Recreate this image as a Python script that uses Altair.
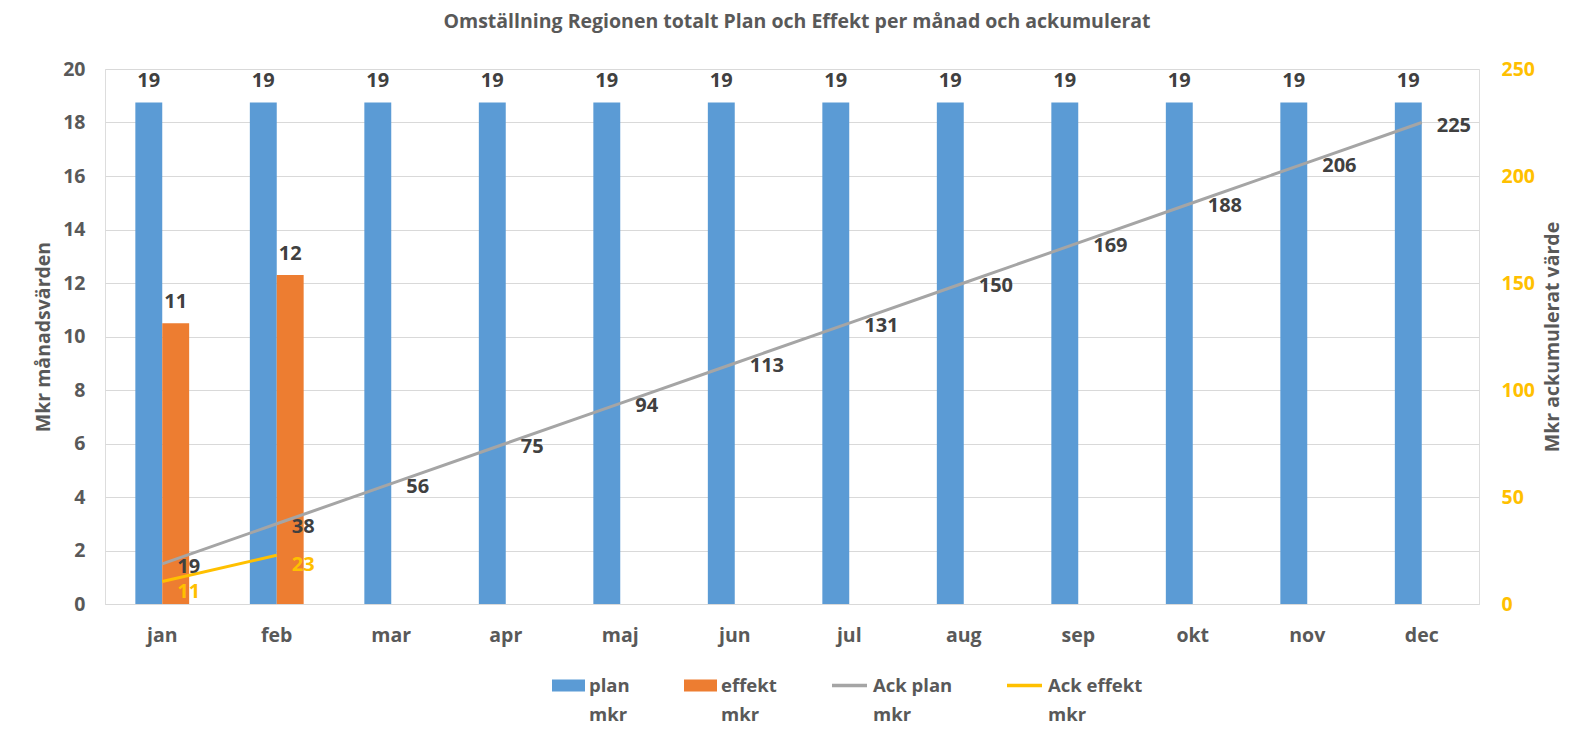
import altair as alt
import pandas as pd

months = ["jan", "feb", "mar", "apr", "maj", "jun", "jul", "aug", "sep", "okt", "nov", "dec"]
plan_mkr = [18.75, 18.75, 18.75, 18.75, 18.75, 18.75, 18.75, 18.75, 18.75, 18.75, 18.75, 18.75]
effekt_months = ["jan", "feb"]
effekt_mkr = [10.5, 12.3]
ack_plan_mkr = [18.75, 37.5, 56.25, 75, 93.75, 112.5, 131.25, 150, 168.75, 187.5, 206.25, 225]
ack_effekt_mkr = [10.5, 22.8]

bar_series = ["plan mkr", "effekt mkr"]
bar_colors = ["#5B9BD5", "#ED7D31"]
line_series = ["Ack plan mkr", "Ack effekt mkr"]
line_colors = ["#A5A5A5", "#FFC000"]

FONT = "Open Sans"
GRAY = "#595959"
DARK = "#404040"
FS = 19.5
LFS = 18.5

bars_df = pd.DataFrame({
    "month": months + effekt_months,
    "series": [bar_series[0]] * len(plan_mkr) + [bar_series[1]] * len(effekt_mkr),
    "value": plan_mkr + effekt_mkr,
})
ack_plan_df = pd.DataFrame({"month": months, "series": line_series[0], "value": ack_plan_mkr})
ack_eff_df = pd.DataFrame({"month": effekt_months, "series": line_series[1], "value": ack_effekt_mkr})
ack_df = pd.concat([ack_plan_df, ack_eff_df], ignore_index=True)

label_expr = "[replace(datum.label, ' mkr', ''), 'mkr']"

x_enc = alt.X(
    "month:N", sort=months,
    scale=alt.Scale(paddingInner=0.53, paddingOuter=0.265),
    axis=alt.Axis(title=None, labelAngle=0, labelFont=FONT, labelFontSize=FS, labelFontWeight="bold",
                  labelColor=GRAY, labelPadding=22, ticks=False, grid=False,
                  domainColor="#D9D9D9", domainWidth=1),
)

y_left = alt.Y(
    "value:Q",
    scale=alt.Scale(domain=[0, 20], nice=False, zero=True),
    axis=alt.Axis(values=list(range(0, 21, 2)), grid=True, gridColor="#D9D9D9", gridWidth=1,
                  domain=False, ticks=False, labelPadding=20, labelFont=FONT, labelFontSize=FS,
                  labelFontWeight="bold", labelColor=GRAY,
                  title="Mkr månadsvärden", titleFont=FONT, titleFontSize=FS, titleFontWeight="bold",
                  titleColor=GRAY, titleX=-62, titleY=267.5, titleAngle=270,
                  titleBaseline="middle", titleAlign="center"),
)

y_right = alt.Y(
    "value:Q",
    scale=alt.Scale(domain=[0, 250], nice=False, zero=True),
    axis=alt.Axis(orient="right", values=list(range(0, 251, 50)), grid=False, domain=False, ticks=False,
                  labelPadding=22, labelFont=FONT, labelFontSize=FS, labelFontWeight="bold",
                  labelColor="#FFC000",
                  title="Mkr ackumulerat värde", titleFont=FONT, titleFontSize=FS, titleFontWeight="bold",
                  titleColor=GRAY, titleX=73, titleY=267.5, titleAngle=270,
                  titleBaseline="middle", titleAlign="center"),
)

bars = alt.Chart(bars_df).mark_bar().encode(
    x=x_enc,
    xOffset=alt.XOffset("series:N", sort=bar_series, scale=alt.Scale(domain=bar_series, paddingInner=0, paddingOuter=0)),
    y=y_left,
    color=alt.Color(
        "series:N",
        scale=alt.Scale(domain=bar_series, range=bar_colors),
        legend=alt.Legend(
            orient="none", legendX=447, legendY=600, direction="horizontal", title=None,
            symbolType="M-1,-0.36H1V0.36H-1Z", symbolSize=1089, symbolStrokeWidth=0,
            labelFont=FONT, labelFontSize=LFS, labelFontWeight="bold", labelColor=GRAY,
            labelOffset=4, columnPadding=39, gridAlign="all", labelExpr=label_expr,
            labelBaseline="middle",
        ),
    ),
)

bar_text = alt.Chart(bars_df).mark_text(
    dy=-21, font=FONT, fontSize=20, fontWeight="bold", color=DARK, baseline="middle"
).encode(
    x=alt.X("month:N", sort=months),
    xOffset=alt.XOffset("series:N", sort=bar_series),
    y=alt.Y("value:Q"),
    text=alt.Text("value:Q", format=".0f"),
)

lines = alt.Chart(ack_df).mark_line(strokeWidth=3).encode(
    x=alt.X("month:N", sort=months),
    y=y_right,
    stroke=alt.Stroke(
        "series:N",
        scale=alt.Scale(domain=line_series, range=line_colors),
        legend=alt.Legend(
            orient="none", legendX=725, legendY=597, direction="horizontal", title=None,
            symbolType="stroke", symbolSize=1225, symbolStrokeWidth=3.5,
            labelFont=FONT, labelFontSize=LFS, labelFontWeight="bold", labelColor=GRAY,
            labelOffset=4, columnPadding=32, gridAlign="all", labelExpr=label_expr,
            labelBaseline="middle",
        ),
    ),
)

ack_plan_text = alt.Chart(ack_plan_df).mark_text(
    align="left", baseline="middle", dx=15, dy=3, font=FONT, fontSize=20, fontWeight="bold", color=DARK
).encode(
    x=alt.X("month:N", sort=months),
    y=alt.Y("value:Q"),
    text=alt.Text("value:Q", format=".0f"),
)

ack_eff_text = alt.Chart(ack_eff_df).mark_text(
    align="left", baseline="middle", dx=15, dy=10, font=FONT, fontSize=20, fontWeight="bold", color="#FFC000"
).encode(
    x=alt.X("month:N", sort=months),
    y=alt.Y("value:Q"),
    text=alt.Text("value:Q", format=".0f"),
)

left_layer = alt.layer(bars, bar_text)
right_layer = alt.layer(lines, ack_plan_text, ack_eff_text)

chart = alt.layer(left_layer, right_layer).resolve_scale(
    y="independent", color="independent"
).properties(
    width=1374,
    height=535,
    padding={"left": 97, "top": 61, "right": 96, "bottom": 126},
    autosize=alt.AutoSizeParams(type="none"),
    title=alt.TitleParams(
        "Omställning Regionen totalt Plan och Effekt per månad och ackumulerat",
        font=FONT, fontSize=19.5, fontWeight="bold", color=GRAY, anchor="middle", offset=27, dx=5,
    ),
).configure_view(stroke=None).configure(
    background="white", style={"guide-label": {"lineHeight": 29}}
)

chart.save("out.html", embed_options={"renderer": "svg", "actions": False})
